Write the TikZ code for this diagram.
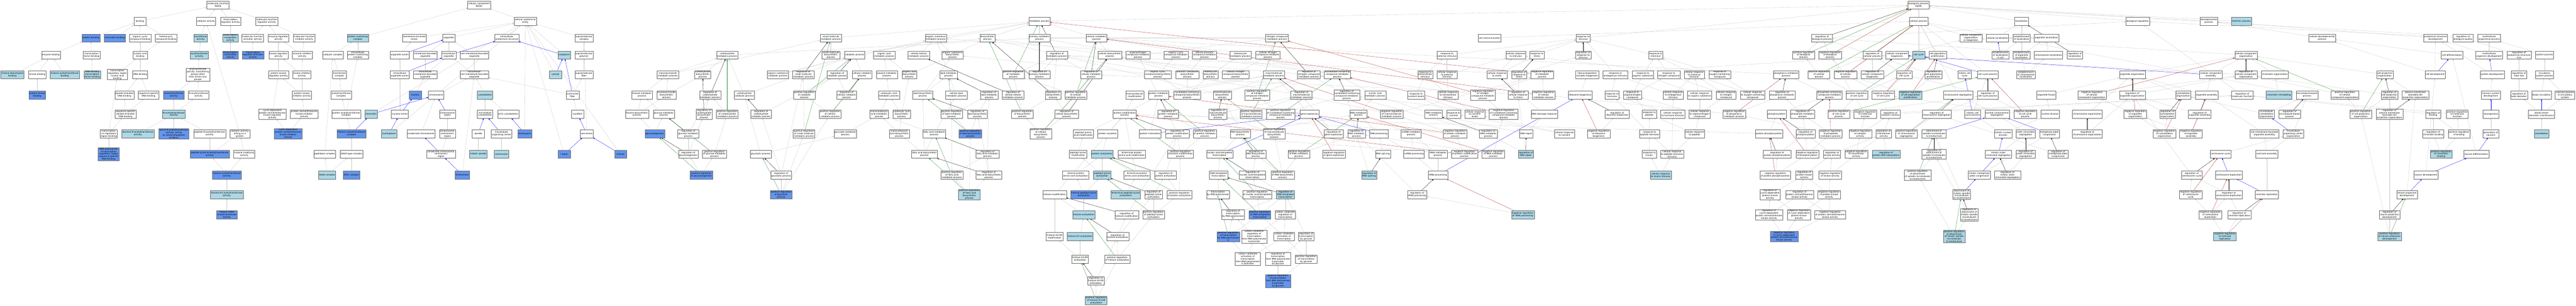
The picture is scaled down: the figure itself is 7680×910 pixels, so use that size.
\documentclass[tikz,border=0pt]{standalone}
\usepackage{fontspec}
\newfontfamily\gofont{DejaVu Sans}
\usetikzlibrary{arrows.meta}
\definecolor{hitblue}{HTML}{6495ED}
\definecolor{nearblue}{HTML}{ADD8E6}
\definecolor{edgegray}{HTML}{C8C8C8}
\definecolor{posgreen}{HTML}{228B22}
\definecolor{negred}{HTML}{B22222}
\pgfdeclarelayer{bg}
\pgfdeclarelayer{edges}
\pgfsetlayers{bg,edges,main}
\tikzstyle{goterm}=[draw=black!60,fill=white,line width=0.6pt,inner xsep=2pt,inner ysep=1pt,minimum width=36pt,minimum height=24pt,align=center,font=\gofont\fontsize{6.5}{7.5}\selectfont]
\tikzstyle{hitterm}=[goterm,fill=hitblue]
\tikzstyle{nearterm}=[goterm,fill=nearblue]
\def\rowy{{15,63,113,164,222,283,340,398,459,521,579,639,704,771,836,894}}
\newcommand{\goterm}[5][goterm]{\node[#1] (#2) at (#3,{\rowy[#4]}) {#5};}
\tikzset{
	isa/.style={draw=edgegray,line width=0.5pt,-{Triangle[length=4.5pt,width=3.6pt]}},
	partof/.style={isa,draw=blue},
	regs/.style={isa,draw=black},
	posregs/.style={isa,draw=posgreen},
	negregs/.style={isa,draw=negred},
}

\begin{document}
\begin{tikzpicture}[x=1pt,y=-1pt]
	\begin{pgfonlayer}{bg}
		\fill[white] (0,0) rectangle (7680,910);
	\end{pgfonlayer}
	\useasboundingbox (0,0) rectangle (7680,910);

	% molecular function
	\goterm{mf}{650}{0}{molecular\_function\\Kat2b}
	\goterm{bind}{417}{1}{binding}
	\goterm{catact}{614}{1}{catalytic activity}
	\goterm{trreg}{687}{1}{transcription\\regulator activity}
	\goterm{mfreg}{795}{1}{molecular function\\regulator activity}
	\goterm[hitterm]{protbind}{271}{2}{protein binding}
	\goterm[hitterm]{chrombind}{342}{2}{chromatin binding}
	\goterm{orgcyc}{418}{2}{organic cyclic\\compound binding}
	\goterm{hetcyc}{495}{2}{heterocyclic\\compound binding}
	\goterm[nearterm]{transf}{598}{2}{transferase\\activity}
	\goterm[nearterm]{coreg}{687}{2}{transcription\\coregulator\\activity}
	\goterm{mfact}{753}{2}{molecular function\\activator activity}
	\goterm{enzreg}{830}{2}{enzyme regulator\\activity}
	\goterm{mfinh}{907}{2}{molecular function\\inhibitor activity}
	\goterm{enzbind}{152}{3}{enzyme binding}
	\goterm{tfbind}{273}{3}{transcription\\factor binding}
	\goterm{nabind}{418}{3}{nucleic acid\\binding}
	\goterm[nearterm]{acyl}{594}{3}{acyltransferase\\activity}
	\goterm[hitterm]{coact}{687}{3}{transcription\\coactivator\\activity}
	\goterm[hitterm]{trregact}{754}{3}{transcription\\regulator activator\\activity}
	\goterm{kinreg}{830}{3}{kinase regulator\\activity}
	\goterm{enzinh}{901}{3}{enzyme inhibitor\\activity}
	\goterm[nearterm]{hdacbind}{37}{4}{histone deacetylase\\binding}
	\goterm{kinbind}{111}{4}{kinase binding}
	\goterm[nearterm]{hatbind}{193}{4}{histone acetyltransferase\\binding}
	\goterm[nearterm]{dbtfbind}{275}{4}{DNA-binding\\transcription\\factor binding}
	\goterm{trrbind}{350}{4}{transcription\\regulatory region\\nucleic acid\\binding}
	\goterm{dnabind}{418}{4}{DNA binding}
	\goterm{acyloth}{590}{4}{acyltransferase\\activity, transferring\\groups other\\than amino-acyl\\groups}
	\goterm{pkreg}{830}{4}{protein kinase\\regulator activity}
	\goterm{kininh}{900}{4}{kinase inhibitor\\activity}
	\goterm[hitterm]{pkbind}{111}{5}{protein kinase\\binding}
	\goterm{dsdna}{371}{5}{double-stranded\\DNA binding}
	\goterm{ssdna}{443}{5}{sequence-specific\\DNA binding}
	\goterm[hitterm]{acetyl}{518}{5}{acetyltransferase\\activity}
	\goterm{nacyl}{592}{5}{N-acyltransferase\\activity}
	\goterm{pkinh}{900}{5}{protein kinase\\inhibitor activity}
	\goterm{ssdsdna}{374}{6}{sequence-specific\\double-stranded\\DNA binding}
	\goterm[nearterm]{nacet}{518}{6}{N-acetyltransferase\\activity}
	\goterm{cdkreg}{812}{6}{cyclin-dependent\\protein serine/threonine\\kinase regulator\\activity}
	\goterm{stkinh}{907}{6}{protein serine/threonine\\kinase inhibitor\\activity}
	\goterm{tcrrbind}{324}{7}{transcription\\cis-regulatory\\region binding}
	\goterm[nearterm]{diamine}{411}{7}{diamine N-acetyltransferase\\activity}
	\goterm[hitterm]{lysnat}{518}{7}{lysine N-acetyltransferase\\activity, acting\\on acetyl phosphate\\as donor}
	\goterm{pepnat}{625}{7}{peptide N-acetyltransferase\\activity}
	\goterm{catprot}{715}{7}{catalytic activity,\\acting on a\\protein}
	\goterm[hitterm]{cdkinh}{859}{7}{cyclin-dependent\\protein serine/threonine\\kinase inhibitor\\activity}
	\goterm[hitterm]{polii}{324}{8}{RNA polymerase\\II transcription\\regulatory region\\sequence-specific\\DNA binding}
	\goterm[hitterm]{peplysnat}{625}{8}{peptide-lysine-N-acetyltransferase\\activity}
	\goterm{hismod}{728}{8}{histone modifying\\activity}
	\goterm[hitterm]{hatact}{676}{9}{histone acetyltransferase\\activity}
	\goterm[nearterm]{hthree}{676}{10}{histone H3 acetyltransferase\\activity}
	\goterm[hitterm]{hknine}{676}{11}{histone H3K9\\acetyltransferase\\activity}

	% cellular component
	\goterm{cc}{1428}{0}{cellular\_component\\Kat2b}
	\goterm{cae}{1566}{1}{cellular anatomical\\entity}
	\goterm[nearterm]{pcc}{1067}{2}{protein-containing\\complex}
	\goterm{mel}{1235}{2}{membrane-enclosed\\lumen}
	\goterm{organelle}{1338}{2}{organelle}
	\goterm{ias}{1511}{2}{intracellular\\anatomical structure}
	\goterm{smc}{1741}{2}{supramolecular\\complex}
	\goterm{catcx}{992}{3}{catalytic complex}
	\goterm{ipcc}{1067}{3}{intracellular\\protein-containing\\complex}
	\goterm{orglumen}{1192}{3}{organelle lumen}
	\goterm{mbo}{1268}{3}{membrane-bounded\\organelle}
	\goterm{io}{1338}{3}{intracellular\\organelle}
	\goterm{nmbo}{1414}{3}{non-membrane-bounded\\organelle}
	\goterm[nearterm]{cytoplasm}{1682}{3}{cytoplasm}
	\goterm{smpoly}{1741}{3}{supramolecular\\polymer}
	\goterm{trfcx}{1012}{4}{transferase\\complex}
	\goterm{iol}{1192}{4}{intracellular\\organelle lumen}
	\goterm{imbo}{1268}{4}{intracellular\\membrane-bounded\\organelle}
	\goterm{inmbo}{1414}{4}{intracellular\\non-membrane-bounded\\organelle}
	\goterm[nearterm]{cytosol}{1656}{4}{cytosol}
	\goterm{smfiber}{1741}{4}{supramolecular\\fiber}
	\goterm{actcx}{1017}{5}{acetyltransferase\\complex}
	\goterm[hitterm]{nucleus}{1238}{5}{nucleus}
	\goterm{chromosome}{1300}{5}{chromosome}
	\goterm[nearterm]{cytoskel}{1446}{5}{cytoskeleton}
	\goterm{contr}{1707}{5}{contractile\\fiber}
	\goterm{pactcx}{1032}{6}{protein acetyltransferase\\complex}
	\goterm[nearterm]{chromatin}{1106}{6}{chromatin}
	\goterm{nuclumen}{1192}{6}{nuclear lumen}
	\goterm{chrreg}{1334}{6}{chromosomal\\region}
	\goterm{mtcyto}{1446}{6}{microtubule\\cytoskeleton}
	\goterm{actin}{1515}{6}{actin cytoskeleton}
	\goterm{myofibril}{1722}{6}{myofibril}
	\goterm[hitterm]{hatcx}{1048}{7}{histone acetyltransferase\\complex}
	\goterm[nearterm]{nucleoplasm}{1160}{7}{nucleoplasm}
	\goterm{condchr}{1255}{7}{condensed chromosome}
	\goterm{centreg}{1334}{7}{chromosome,\\centromeric\\region}
	\goterm{spindle}{1426}{7}{spindle}
	\goterm{mtoc}{1495}{7}{microtubule\\organizing center}
	\goterm[hitterm]{actomyosin}{1564}{7}{actomyosin}
	\goterm{sarcomere}{1749}{7}{sarcomere}
	\goterm{pepcx}{968}{8}{peptidase complex}
	\goterm{sagatype}{1048}{8}{SAGA-type complex}
	\goterm{condcent}{1315}{8}{condensed chromosome,\\centromeric\\region}
	\goterm[nearterm]{mitspindle}{1426}{8}{mitotic spindle}
	\goterm[nearterm]{centrosome}{1495}{8}{centrosome}
	\goterm[hitterm]{iband}{1682}{8}{I band}
	\goterm[hitterm]{aband}{1850}{8}{A band}
	\goterm[nearterm]{saga}{975}{9}{SAGA complex}
	\goterm[hitterm]{atac}{1048}{9}{ATAC complex}
	\goterm[hitterm]{kinetochore}{1378}{9}{kinetochore}

	% biological process: carbohydrates
	\goterm{carbmet}{2168}{3}{carbohydrate\\metabolic process}
	\goterm{monomet}{1991}{4}{monosaccharide\\metabolic process}
	\goterm{carbbio}{2095}{4}{carbohydrate\\biosynthetic\\process}
	\goterm{hexmet}{1914}{5}{hexose metabolic\\process}
	\goterm{monobio}{1987}{5}{monosaccharide\\biosynthetic\\process}
	\goterm{regcarbmet}{2117}{5}{regulation of\\carbohydrate\\metabolic process}
	\goterm{carbcat}{2219}{5}{carbohydrate\\catabolic process}
	\goterm{hexbio}{1899}{6}{hexose biosynthetic\\process}
	\goterm{glcmet}{1979}{6}{glucose metabolic\\process}
	\goterm{regcarbbio}{2099}{6}{regulation of\\carbohydrate\\biosynthetic\\process}
	\goterm{posregcarbmet}{2168}{6}{positive regulation\\of carbohydrate\\metabolic process}
	\goterm[hitterm]{gluconeo}{1952}{7}{gluconeogenesis}
	\goterm{regglcmet}{2052}{7}{regulation of\\glucose metabolic\\process}
	\goterm{reggluconeo}{2052}{8}{regulation of\\gluconeogenesis}
	\goterm{posregglcmet}{2130}{8}{positive regulation\\of glucose metabolic\\process}
	\goterm[hitterm]{posreggluconeo}{2091}{9}{positive regulation\\of gluconeogenesis}

	% small molecules and lipids
	\goterm{smmet}{2477}{2}{small molecule\\metabolic process}
	\goterm{osmet}{2790}{2}{organic substance\\metabolic process}
	\goterm{biosyn}{2944}{2}{biosynthetic\\process}
	\goterm{smbio}{2477}{3}{small molecule\\biosynthetic\\process}
	\goterm{catab}{2548}{3}{catabolic process}
	\goterm{oamet}{2636}{3}{organic acid\\metabolic process}
	\goterm{ketmet}{2739}{3}{cellular ketone\\metabolic process}
	\goterm{osbio}{2840}{3}{organic substance\\biosynthetic\\process}
	\goterm{oscat}{2319}{4}{organic substance\\catabolic process}
	\goterm{regsmmet}{2395}{4}{regulation of\\small molecule\\metabolic process}
	\goterm{regcatab}{2496}{4}{regulation of\\catabolic process}
	\goterm{cellcat}{2570}{4}{cellular catabolic\\process}
	\goterm{oxomet}{2644}{4}{oxoacid metabolic\\process}
	\goterm{oabio}{2711}{4}{organic acid\\biosynthetic\\process}
	\goterm{lipmet}{2828}{4}{lipid metabolic\\process}
	\goterm{posregcatab}{2398}{5}{positive regulation\\of catabolic\\process}
	\goterm{regcellcat}{2524}{5}{regulation of\\cellular catabolic\\process}
	\goterm{carbxmet}{2650}{5}{carboxylic acid\\metabolic process}
	\goterm{lipbio}{2751}{5}{lipid biosynthetic\\process}
	\goterm{celllip}{2851}{5}{cellular lipid\\metabolic process}
	\goterm{reglipmet}{2949}{5}{regulation of\\lipid metabolic\\process}
	\goterm{regcarbcat}{2269}{6}{regulation of\\carbohydrate\\catabolic process}
	\goterm{posregcellcat}{2475}{6}{positive regulation\\of cellular\\catabolic process}
	\goterm{mcamet}{2621}{6}{monocarboxylic\\acid metabolic\\process}
	\goterm{carbxbio}{2688}{6}{carboxylic acid\\biosynthetic\\process}
	\goterm{posreglipmet}{2837}{6}{positive regulation\\of lipid metabolic\\process}
	\goterm{reglipbio}{2914}{6}{regulation of\\lipid biosynthetic\\process}
	\goterm{posregsmmet}{2397}{7}{positive regulation\\of small molecule\\metabolic process}
	\goterm{pyrmet}{2520}{7}{pyruvate metabolic\\process}
	\goterm{mcabio}{2681}{7}{monocarboxylic\\acid biosynthetic\\process}
	\goterm{famet}{2785}{7}{fatty acid metabolic\\process}
	\goterm[hitterm]{posreglipbio}{2893}{7}{positive regulation\\of lipid biosynthetic\\process}
	\goterm{glycol}{2268}{8}{glycolytic process}
	\goterm{fabio}{2756}{8}{fatty acid biosynthetic\\process}
	\goterm{regfamet}{2944}{8}{regulation of\\fatty acid metabolic\\process}
	\goterm{regglycol}{2329}{9}{regulation of\\glycolytic process}
	\goterm{posregfamet}{2838}{9}{positive regulation\\of fatty acid\\metabolic process}
	\goterm{regfabio}{2948}{9}{regulation of\\fatty acid biosynthetic\\process}
	\goterm[hitterm]{posregglycol}{2329}{10}{positive regulation\\of glycolytic\\process}
	\goterm[nearterm]{posregfabio}{2890}{10}{positive regulation\\of fatty acid\\biosynthetic\\process}

	% metabolism, proteins, transcription
	\goterm{metab}{3099}{1}{metabolic process}
	\goterm{primet}{3099}{2}{primary metabolic\\process}
	\goterm{cellmet}{3269}{2}{cellular metabolic\\process}
	\goterm{regmet}{3151}{3}{regulation of\\metabolic process}
	\goterm{cellbio}{3309}{3}{cellular biosynthetic\\process}
	\goterm{onmet}{3393}{3}{organonitrogen\\compound metabolic\\process}
	\goterm{ocmet}{3506}{3}{organic cyclic\\compound metabolic\\process}
	\goterm{aromet}{3591}{3}{cellular aromatic\\compound metabolic\\process}
	\goterm{hetmet}{3698}{3}{heterocycle\\metabolic process}
	\goterm{cnmet}{3780}{3}{cellular nitrogen\\compound metabolic\\process}
	\goterm{posregmet}{3021}{4}{positive regulation\\of metabolic\\process}
	\goterm{regprimet}{3099}{4}{regulation of\\primary metabolic\\process}
	\goterm{regcellmet}{3253}{4}{regulation of\\cellular metabolic\\process}
	\goterm{ocbio}{3452}{4}{organic cyclic\\compound biosynthetic\\process}
	\goterm{arobio}{3540}{4}{aromatic compound\\biosynthetic\\process}
	\goterm{hetbio}{3609}{4}{heterocycle\\biosynthetic\\process}
	\goterm{cnbio}{3684}{4}{cellular nitrogen\\compound biosynthetic\\process}
	\goterm{macmet}{3798}{4}{macromolecule\\metabolic process}
	\goterm{regketmet}{3020}{5}{regulation of\\cellular ketone\\metabolic process}
	\goterm{regbio}{3140}{5}{regulation of\\biosynthetic\\process}
	\goterm{posregcellmet}{3207}{5}{positive regulation\\of cellular\\metabolic process}
	\goterm{macmod}{3383}{5}{macromolecule\\modification}
	\goterm{protmet}{3454}{5}{protein metabolic\\process}
	\goterm{ncbio}{3539}{5}{nucleobase-containing\\compound biosynthetic\\process}
	\goterm{macbio}{3644}{5}{macromolecule\\biosynthetic\\process}
	\goterm{posregnmet}{3748}{5}{positive regulation\\of nitrogen\\compound metabolic\\process}
	\goterm{posregbio}{3048}{6}{positive regulation\\of biosynthetic\\process}
	\goterm{regcellbio}{3180}{6}{regulation of\\cellular biosynthetic\\process}
	\goterm{protmod}{3353}{6}{protein modification\\process}
	\goterm{regprotmet}{3483}{6}{regulation of\\protein metabolic\\process}
	\goterm{regmacbio}{3631}{6}{regulation of\\macromolecule\\biosynthetic\\process}
	\goterm{posregmacmet}{3730}{6}{positive regulation\\of macromolecule\\metabolic process}
	\goterm{posregncmet}{3818}{6}{positive regulation\\of nucleobase-containing\\compound metabolic\\process}
	\goterm{posregcellbio}{3103}{7}{positive regulation\\of cellular\\biosynthetic\\process}
	\goterm{pepaa}{3230}{7}{peptidyl-amino\\acid modification}
	\goterm{protacyl}{3302}{7}{protein acylation}
	\goterm{protmat}{3429}{7}{protein maturation}
	\goterm{regprotmod}{3510}{7}{regulation of\\protein modification\\process}
	\goterm{posregprotmet}{3592}{7}{positive regulation\\of protein metabolic\\process}
	\goterm{rnabio}{3698}{7}{RNA biosynthetic\\process}
	\goterm{posregmacbio}{3799}{7}{positive regulation\\of macromolecule\\biosynthetic\\process}
	\goterm{peplysmod}{3214}{8}{peptidyl-lysine\\modification}
	\goterm[nearterm]{protacet}{3286}{8}{protein acetylation}
	\goterm{ntermmod}{3374}{8}{N-terminal protein\\amino acid modification}
	\goterm{posregprotmod}{3519}{8}{positive regulation\\of protein modification\\process}
	\goterm{natx}{3636}{8}{nucleic acid-templated\\transcription}
	\goterm{regrnabio}{3744}{8}{regulation of\\RNA biosynthetic\\process}
	\goterm{posregrnamet}{3872}{8}{positive regulation\\of RNA metabolic\\process}
	\goterm{neggenexp}{3977}{8}{negative regulation\\of gene expression}
	\goterm{intaa}{3207}{9}{internal protein\\amino acid acetylation}
	\goterm[nearterm]{peplysacet}{3286}{9}{peptidyl-lysine\\acetylation}
	\goterm{ntermacet}{3390}{9}{N-terminal protein\\amino acid acetylation}
	\goterm{regprotacet}{3475}{9}{regulation of\\protein acetylation}
	\goterm{dnatx}{3633}{9}{DNA-templated\\transcription}
	\goterm{regnatx}{3734}{9}{regulation of\\nucleic acid-templated\\transcription}
	\goterm{posregrnabio}{3824}{9}{positive regulation\\of RNA biosynthetic\\process}
	\goterm{hismodp}{3144}{10}{histone modification}
	\goterm[hitterm]{intpeplys}{3231}{10}{internal peptidyl-lysine\\acetylation}
	\goterm[nearterm]{ntermpeplys}{3356}{10}{N-terminal peptidyl-lysine\\acetylation}
	\goterm{regpeplys}{3439}{10}{regulation of\\peptidyl-lysine\\acetylation}
	\goterm{posregprotacet}{3516}{10}{positive regulation\\of protein acetylation}
	\goterm{txpolii}{3631}{10}{transcription\\by RNA polymerase\\II}
	\goterm{posregnatx}{3748}{10}{positive regulation\\of nucleic acid-templated\\transcription}
	\goterm[nearterm]{regdnatx}{3832}{10}{regulation of\\DNA-templated\\transcription}
	\goterm[nearterm]{hisacet}{3231}{11}{histone acetylation}
	\goterm{reghismod}{3359}{11}{regulation of\\histone modification}
	\goterm{posregpeplys}{3439}{11}{positive regulation\\of peptidyl-lysine\\acetylation}
	\goterm{regtxpolii}{3676}{11}{regulation of\\transcription\\by RNA polymerase\\II}
	\goterm[hitterm]{posregdnatx}{3756}{11}{positive regulation\\of DNA-templated\\transcription}
	\goterm{ccregtx}{3832}{11}{carbon catabolite\\regulation of\\transcription}
	\goterm{h3k9mod}{3144}{12}{histone H3-K9\\modification}
	\goterm[nearterm]{h3acet}{3220}{12}{histone H3 acetylation}
	\goterm{reghisacet}{3332}{12}{regulation of\\histone acetylation}
	\goterm[hitterm]{posregtxpolii}{3662}{12}{positive regulation\\of transcription\\by RNA polymerase\\II}
	\goterm{ccregpolii}{3739}{12}{carbon catabolite\\regulation of\\transcription\\from RNA polymerase\\II promoter}
	\goterm{ccact}{3828}{12}{carbon catabolite\\activation of\\transcription}
	\goterm{regtxglc}{3894}{12}{regulation of\\transcription\\by glucose}
	\goterm{h3k9acet}{3220}{13}{histone H3-K9\\acetylation}
	\goterm{posreghisacet}{3331}{13}{positive regulation\\of histone acetylation}
	\goterm{ccactpolii}{3720}{13}{carbon catabolite\\activation of\\transcription\\from RNA polymerase\\II promoter}
	\goterm{regtxpoliiglc}{3810}{13}{regulation of\\transcription\\from RNA polymerase\\II promoter\\by glucose}
	\goterm{posregtxglc}{3894}{13}{positive regulation\\of transcription\\by glucose}
	\goterm{regh3k9}{3267}{14}{regulation of\\histone H3-K9\\acetylation}
	\goterm[hitterm]{posregtxpoliiglc}{3810}{14}{positive regulation\\of transcription\\from RNA polymerase\\II promoter\\by glucose}
	\goterm[nearterm]{posregh3k9}{3268}{15}{positive regulation\\of histone H3-K9\\acetylation}

	% nucleic acids and responses
	\goterm{nmet}{3807}{2}{nitrogen compound\\metabolic process}
	\goterm{cellcomm}{4441}{2}{cell communication}
	\goterm{respext}{4314}{3}{response to\\external stimulus}
	\goterm{cellresp}{4519}{3}{cellular response\\to stimulus}
	\goterm{regnmet}{3902}{4}{regulation of\\nitrogen compound\\metabolic process}
	\goterm{ncmet}{3987}{4}{nucleobase-containing\\compound metabolic\\process}
	\goterm{respextra}{4249}{4}{response to\\extracellular\\stimulus}
	\goterm{cellrespext}{4314}{4}{cellular response\\to external\\stimulus}
	\goterm{cellstress}{4463}{4}{cellular response\\to stress}
	\goterm{regrespstress}{4529}{4}{regulation of\\response to\\stress}
	\goterm{regmacmet}{3880}{5}{regulation of\\macromolecule\\metabolic process}
	\goterm{regncmet}{4015}{5}{regulation of\\nucleobase-containing\\compound metabolic\\process}
	\goterm{namet}{4100}{5}{nucleic acid\\metabolic process}
	\goterm{respnutlev}{4222}{5}{response to\\nutrient levels}
	\goterm{cellrespextra}{4317}{5}{cellular response\\to extracellular\\stimulus}
	\goterm{negregnmet}{4421}{5}{negative regulation\\of nitrogen\\compound metabolic\\process}
	\goterm{regcellstress}{4526}{5}{regulation of\\cellular response\\to stress}
	\goterm{genexp}{3904}{6}{gene expression}
	\goterm{rnamet}{4050}{6}{RNA metabolic\\process}
	\goterm{negregmacmet}{4149}{6}{negative regulation\\of macromolecule\\metabolic process}
	\goterm{dnamet}{4274}{6}{DNA metabolic\\process}
	\goterm{respnut}{4334}{6}{response to\\nutrient}
	\goterm{cellrespnutlev}{4397}{6}{cellular response\\to nutrient\\levels}
	\goterm{negregncmet}{4483}{6}{negative regulation\\of nucleobase-containing\\compound metabolic\\process}
	\goterm{reggenexp}{3976}{7}{regulation of\\gene expression}
	\goterm{regrnamet}{4044}{7}{regulation of\\RNA metabolic\\process}
	\goterm{rnaproc}{4111}{7}{RNA processing}
	\goterm{ncrnamet}{4207}{7}{ncRNA metabolic\\process}
	\goterm{negregprotmet}{4338}{7}{negative regulation\\of protein metabolic\\process}
	\goterm{regdnamet}{4437}{7}{regulation of\\DNA metabolic\\process}
	\goterm{dnarepair}{4550}{7}{DNA repair}
	\goterm{rnasplice}{4123}{8}{RNA splicing}
	\goterm{ncrnaproc}{4215}{8}{ncRNA processing}
	\goterm{rrnamet}{4287}{8}{rRNA metabolic\\process}
	\goterm{negregprotmod}{4366}{8}{negative regulation\\of protein modification\\process}
	\goterm{negregrnamet}{4452}{8}{negative regulation\\of RNA metabolic\\process}
	\goterm[nearterm]{regdnarepair}{4549}{8}{regulation of\\DNA repair}
	\goterm[nearterm]{regrnasplice}{4082}{9}{regulation of\\RNA splicing}
	\goterm{rrnaproc}{4287}{9}{rRNA processing}
	\goterm{regrrnaproc}{4225}{10}{regulation of\\rRNA processing}
	\goterm[nearterm]{negregrrnaproc}{4540}{11}{negative regulation\\of rRNA processing}
	\goterm{respstim}{4720}{2}{response to\\stimulus}
	\goterm{respstress}{4582}{3}{response to\\stress}
	\goterm{regrespstim}{4720}{3}{regulation of\\response to\\stimulus}
	\goterm{respchem}{4936}{3}{response to\\chemical}
	\goterm{negregmet}{4598}{4}{negative regulation\\of metabolic\\process}
	\goterm{rnpbio}{4732}{4}{ribonucleoprotein\\complex biogenesis}
	\goterm{respendo}{4816}{4}{response to\\endogenous stimulus}
	\goterm{resporg}{4898}{4}{response to\\organic substance}
	\goterm{respnitro}{4975}{4}{response to\\nitrogen compound}
	\goterm{cellrespchem}{5051}{4}{cellular response\\to chemical\\stimulus}
	\goterm{respoxy}{5127}{4}{response to\\oxygen-containing\\compound}
	\goterm{phosmet}{5325}{4}{phosphorus metabolic\\process}
	\goterm{negregcellmet}{4602}{5}{negative regulation\\of cellular\\metabolic process}
	\goterm{ribobio}{4711}{5}{ribosome biogenesis}
	\goterm{resphorm}{4806}{5}{response to\\hormone}
	\goterm{resporgn}{4867}{5}{response to\\organonitrogen\\compound}
	\goterm{cellrespendo}{4988}{5}{cellular response\\to endogenous\\stimulus}
	\goterm{cellresporg}{5067}{5}{cellular response\\to organic substance}
	\goterm{cellrespnitro}{5146}{5}{cellular response\\to nitrogen\\compound}
	\goterm{cellrespoxy}{5225}{5}{cellular response\\to oxygen-containing\\compound}
	\goterm{regphosmet}{5313}{5}{regulation of\\phosphorus metabolic\\process}
	\goterm{dnadamage}{4604}{6}{DNA damage response}
	\goterm{regribobio}{4821}{6}{regulation of\\ribosome biogenesis}
	\goterm{resppep}{4917}{6}{response to\\peptide}
	\goterm{cellresphorm}{4987}{6}{cellular response\\to hormone stimulus}
	\goterm{cellresporgn}{5067}{6}{cellular response\\to organonitrogen\\compound}
	\goterm{negregphosmet}{5170}{6}{negative regulation\\of phosphorus\\metabolic process}
	\goterm{phosphorylation}{5297}{6}{phosphorylation}
	\goterm{cellrespnut}{4664}{7}{cellular response\\to nutrient}
	\goterm{negregribobio}{4766}{7}{negative regulation\\of ribosome\\biogenesis}
	\goterm{resppephorm}{4918}{7}{response to\\peptide hormone}
	\goterm{cellresppep}{5052}{7}{cellular response\\to peptide}
	\goterm{protphos}{5274}{7}{protein phosphorylation}
	\goterm{respinsulin}{4917}{8}{response to\\insulin}
	\goterm{cellresppephorm}{4985}{8}{cellular response\\to peptide hormone\\stimulus}
	\goterm{regprotphos}{5298}{8}{regulation of\\protein phosphorylation}
	\goterm[nearterm]{cellrespins}{4951}{9}{cellular response\\to insulin stimulus}
	\goterm{negregprotphos}{5293}{9}{negative regulation\\of protein phosphorylation}
	\goterm{regcdk}{5277}{10}{regulation of\\cyclin-dependent\\protein kinase\\activity}
	\goterm{regstk}{5365}{10}{regulation of\\protein serine/threonine\\kinase activity}
	\goterm{regcdkst}{5274}{11}{regulation of\\cyclin-dependent\\protein serine/threonine\\kinase activity}
	\goterm{negregcdk}{5363}{11}{negative regulation\\of cyclin-dependent\\protein kinase\\activity}
	\goterm[hitterm]{negregcdkst}{5319}{12}{negative regulation\\of cyclin-dependent\\protein serine/threonine\\kinase activity}

	% cellular process and cell cycle
	\goterm{bp}{5720}{0}{biological\_process\\Kat2b}
	\goterm{cellproc}{5720}{1}{cellular process}
	\goterm{localization}{6027}{1}{localization}
	\goterm{regbp}{5432}{2}{regulation of\\biological process}
	\goterm{ccob}{5876}{2}{cellular component\\organization\\or biogenesis}
	\goterm{cellloc}{5955}{2}{cellular localization}
	\goterm{estloc}{6027}{2}{establishment\\of localization}
	\goterm{orgloc}{6101}{2}{organelle localization}
	\goterm{posregbp}{5377}{3}{positive regulation\\of biological\\process}
	\goterm{negregbp}{5456}{3}{negative regulation\\of biological\\process}
	\goterm{regcellproc}{5582}{3}{regulation of\\cellular process}
	\goterm{ccbiog}{5656}{3}{cellular component\\biogenesis}
	\goterm[nearterm]{cellcycle}{5720}{3}{cell cycle}
	\goterm{cellpop}{5777}{3}{cell population\\proliferation}
	\goterm{estlocincell}{5964}{3}{establishment\\of localization\\in cell}
	\goterm{estorgloc}{6027}{3}{establishment\\of organelle\\localization}
	\goterm{chrloc}{6107}{3}{chromosome localization}
	\goterm{posregcellproc}{5423}{4}{positive regulation\\of cellular\\process}
	\goterm{negregcellproc}{5502}{4}{negative regulation\\of cellular\\process}
	\goterm{regccbiog}{5582}{4}{regulation of\\cellular component\\biogenesis}
	\goterm{regcellcycle}{5677}{4}{regulation of\\cell cycle}
	\goterm{regcellpop}{5764}{4}{regulation of\\cell population\\proliferation}
	\goterm{mitcc}{5857}{4}{mitotic cell\\cycle}
	\goterm{ccproc}{5926}{4}{cell cycle process}
	\goterm{estchrloc}{6040}{4}{establishment\\of chromosome\\localization}
	\goterm{phoscmet}{5454}{5}{phosphate-containing\\compound metabolic\\process}
	\goterm{posregcc}{5536}{5}{positive regulation\\of cell cycle}
	\goterm{negregcc}{5615}{5}{negative regulation\\of cell cycle}
	\goterm[nearterm]{negregcellpop}{5696}{5}{negative regulation\\of cell population\\proliferation}
	\goterm{chrseg}{5838}{5}{chromosome segregation}
	\goterm{regccproc}{5926}{5}{regulation of\\cell cycle process}
	\goterm{orgfission}{6101}{5}{organelle fission}
	\goterm{regphosphmet}{5374}{6}{regulation of\\phosphate metabolic\\process}
	\goterm{posregccproc}{5482}{6}{positive regulation\\of cell cycle\\process}
	\goterm{negregmf}{5561}{6}{negative regulation\\of molecular\\function}
	\goterm{regcatact}{5636}{6}{regulation of\\catalytic activity}
	\goterm{regchrseg}{5774}{6}{regulation of\\chromosome segregation}
	\goterm{mitccproc}{5881}{6}{mitotic cell\\cycle process}
	\goterm{nucchrseg}{5954}{6}{nuclear chromosome\\segregation}
	\goterm{negregccproc}{6038}{6}{negative regulation\\of cell cycle\\process}
	\goterm{nucdiv}{6112}{6}{nuclear division}
	\goterm{regphos}{5383}{7}{regulation of\\phosphorylation}
	\goterm{negregphosphmet}{5458}{7}{negative regulation\\of phosphate\\metabolic process}
	\goterm{negregcatact}{5546}{7}{negative regulation\\of catalytic\\activity}
	\goterm{regtransf}{5616}{7}{regulation of\\transferase\\activity}
	\goterm{posregchrseg}{5684}{7}{positive regulation\\of chromosome\\segregation}
	\goterm{attach}{5766}{7}{attachment of\\spindle microtubules\\to kinetochore}
	\goterm{mitnucdiv}{5972}{7}{mitotic nuclear\\division}
	\goterm{sischrseg}{6039}{7}{sister chromatid\\segregation}
	\goterm{metaphase}{6110}{7}{metaphase plate\\congression}
	\goterm{negregphos}{5388}{8}{negative regulation\\of phosphorylation}
	\goterm{regkinact}{5462}{8}{regulation of\\kinase activity}
	\goterm{negregtransf}{5534}{8}{negative regulation\\of transferase\\activity}
	\goterm[nearterm]{regadp}{5623}{8}{regulation of\\protein ADP-ribosylation}
	\goterm{regattach}{5766}{8}{regulation of\\attachment of\\spindle microtubules\\to kinetochore}
	\goterm{mitsischr}{5958}{8}{mitotic sister\\chromatid segregation}
	\goterm{regsischr}{6039}{8}{regulation of\\sister chromatid\\segregation}
	\goterm{regmetaphase}{6136}{8}{regulation of\\metaphase plate\\congression}
	\goterm{regpk}{5379}{9}{regulation of\\protein kinase\\activity}
	\goterm{negregkin}{5456}{9}{negative regulation\\of kinase activity}
	\goterm{posregattach}{5717}{9}{positive regulation\\of attachment\\of spindle microtubules\\to kinetochore}
	\goterm{mitmeta}{5901}{9}{mitotic metaphase\\plate congression}
	\goterm{regmitsis}{5985}{9}{regulation of\\mitotic sister\\chromatid segregation}
	\goterm{negregpk}{5453}{10}{negative regulation\\of protein kinase\\activity}
	\goterm{attachmit}{5848}{10}{attachment of\\mitotic spindle\\microtubules\\to kinetochore}
	\goterm{negregstk}{5456}{11}{negative regulation\\of protein serine/threonine\\kinase activity}
	\goterm{regattachmit}{5871}{11}{regulation of\\attachment of\\mitotic spindle\\microtubules\\to kinetochore}
	\goterm[nearterm]{posregattachmit}{5826}{12}{positive regulation\\of attachment\\of mitotic spindle\\microtubules\\to kinetochore}

	% organization
	\goterm{bioreg}{6373}{1}{biological regulation}
	\goterm{devproc}{6585}{1}{developmental\\process}
	\goterm[nearterm]{rhythmic}{6682}{1}{rhythmic process}
	\goterm{celldevproc}{6923}{2}{cellular developmental\\process}
	\goterm{regloc}{6186}{3}{regulation of\\localization}
	\goterm{cco}{6696}{3}{cellular component\\organization}
	\goterm{orgorg}{6357}{4}{organelle organization}
	\goterm{ccassembly}{6591}{4}{cellular component\\assembly}
	\goterm{regcco}{6696}{4}{regulation of\\cellular component\\organization}
	\goterm{chromorg}{6782}{4}{chromatin organization}
	\goterm{negregcco}{6237}{5}{negative regulation\\of cellular\\component organization}
	\goterm{regorgorg}{6357}{5}{regulation of\\organelle organization}
	\goterm{cytoorg}{6509}{5}{cytoskeleton\\organization}
	\goterm{orgassembly}{6579}{5}{organelle assembly}
	\goterm{regmf}{6685}{5}{regulation of\\molecular function}
	\goterm[nearterm]{chromremod}{6794}{5}{chromatin remodeling}
	\goterm{mtbased}{6878}{5}{microtubule-based\\process}
	\goterm{chrorg}{6223}{6}{chromosome organization}
	\goterm{negregorgorg}{6366}{6}{negative regulation\\of organelle\\organization}
	\goterm{regcytoorg}{6462}{6}{regulation of\\cytoskeleton\\organization}
	\goterm{regorgassem}{6558}{6}{regulation of\\organelle assembly}
	\goterm{mtcytoorg}{6757}{6}{microtubule\\cytoskeleton\\organization}
	\goterm{regmtbased}{6826}{6}{regulation of\\microtubule-based\\process}
	\goterm{regchrorg}{6223}{7}{regulation of\\chromosome organization}
	\goterm{negregcytoorg}{6453}{7}{negative regulation\\of cytoskeleton\\organization}
	\goterm{negregorgassem}{6532}{7}{negative regulation\\of organelle\\assembly}
	\goterm{nmboassem}{6751}{7}{non-membrane-bounded\\organelle assembly}
	\goterm{mtocorg}{6837}{7}{microtubule\\organizing center\\organization}
	\goterm{centcycle}{6620}{8}{centrosome cycle}
	\goterm{centassem}{6758}{8}{centriole assembly}
	\goterm{regcentcycle}{6534}{9}{regulation of\\centrosome cycle}
	\goterm{centdup}{6645}{9}{centrosome duplication}
	\goterm{negregcentcycle}{6531}{10}{negative regulation\\of centrosome\\cycle}
	\goterm{regcentdup}{6645}{10}{regulation of\\centrosome duplication}
	\goterm{centrep}{6758}{10}{centriole replication}
	\goterm{negregcentdup}{6590}{11}{negative regulation\\of centrosome\\duplication}
	\goterm{regcentrep}{6676}{11}{regulation of\\centriole replication}
	\goterm[nearterm]{negregcentrep}{6633}{12}{negative regulation\\of centriole\\replication}

	% development
	\goterm{asdev}{7261}{2}{anatomical structure\\development}
	\goterm{regbq}{7343}{2}{regulation of\\biological quality}
	\goterm{mop}{7421}{2}{multicellular\\organismal process}
	\goterm{celldiff}{7310}{3}{cell differentiation}
	\goterm{mod}{7421}{3}{multicellular\\organism development}
	\goterm{regass}{7510}{3}{regulation of\\anatomical structure\\size}
	\goterm{sysproc}{7586}{3}{system process}
	\goterm{cpo}{7110}{4}{cell projection\\organization}
	\goterm{celldev}{7260}{4}{cell development}
	\goterm{sysdev}{7430}{4}{system development}
	\goterm{regtube}{7510}{4}{regulation of\\tube size}
	\goterm{circsys}{7586}{4}{circulatory\\system process}
	\goterm{posregcco}{6991}{5}{positive regulation\\of cellular\\component organization}
	\goterm{regcpo}{7124}{5}{regulation of\\cell projection\\organization}
	\goterm{pmbcpo}{7201}{5}{plasma membrane\\bounded cell\\projection organization}
	\goterm{nsdev}{7426}{5}{nervous system\\development}
	\goterm{regtubediam}{7510}{5}{regulation of\\tube diameter}
	\goterm{bloodcirc}{7577}{5}{blood circulation}
	\goterm{vascproc}{7647}{5}{vascular process\\in circulatory\\system}
	\goterm{posregcpo}{7038}{6}{positive regulation\\of cell projection\\organization}
	\goterm{regpmbcpo}{7124}{6}{regulation of\\plasma membrane\\bounded cell\\projection organization}
	\goterm{regbinding}{7254}{6}{regulation of\\binding}
	\goterm{posregmf}{7326}{6}{positive regulation\\of molecular\\function}
	\goterm{neurogenesis}{7426}{6}{neurogenesis}
	\goterm{bvdm}{7577}{6}{blood vessel\\diameter maintenance}
	\goterm{regchrombind}{7254}{7}{regulation of\\chromatin binding}
	\goterm{posregbinding}{7331}{7}{positive regulation\\of binding}
	\goterm{genneurons}{7426}{7}{generation of\\neurons}
	\goterm[nearterm]{vasodilation}{7577}{7}{vasodilation}
	\goterm[nearterm]{posregchrombind}{7278}{8}{positive regulation\\of chromatin\\binding}
	\goterm{neurondiff}{7383}{8}{neuron differentiation}
	\goterm{neurondev}{7232}{9}{neuron development}
	\goterm{npd}{7176}{10}{neuron projection\\development}
	\goterm{regnpd}{7124}{11}{regulation of\\neuron projection\\development}
	\goterm[nearterm]{posregnpd}{7124}{12}{positive regulation\\of neuron projection\\development}

	\begin{pgfonlayer}{edges}
	% is_a
	\foreach \a/\b in {bind/mf,catact/mf,trreg/mf,mfreg/mf,protbind/bind,chrombind/bind,orgcyc/bind,hetcyc/bind,
		transf/catact,catprot/catact,coreg/trreg,coact/coreg,mfact/mfreg,enzreg/mfreg,mfinh/mfreg,
		enzbind/protbind,tfbind/protbind,nabind/orgcyc,nabind/hetcyc,acyl/transf,trregact/mfact,
		kinreg/enzreg,enzinh/enzreg,enzinh/mfinh,hdacbind/enzbind,kinbind/enzbind,hatbind/enzbind,
		dbtfbind/tfbind,trrbind/nabind,dnabind/nabind,acyloth/acyl,pkreg/kinreg,kininh/kinreg,kininh/enzinh,
		pkbind/kinbind,dsdna/dnabind,ssdna/dnabind,acetyl/acyloth,nacyl/acyloth,pkinh/pkreg,pkinh/kininh,
		ssdsdna/dsdna,ssdsdna/ssdna,nacet/acetyl,nacet/nacyl,cdkreg/pkreg,stkinh/pkinh,
		tcrrbind/trrbind,tcrrbind/ssdsdna,diamine/nacet,lysnat/nacet,pepnat/nacet,
		cdkinh/cdkreg,cdkinh/stkinh,polii/tcrrbind,peplysnat/pepnat,peplysnat/catprot,hismod/catprot,
		hatact/peplysnat,hatact/hismod,hthree/hatact,hknine/hthree}
		\draw[isa] (\a) -- (\b);
	\foreach \a/\b in {cae/cc,pcc/cc,mel/cae,organelle/cae,ias/cae,smc/cae,catcx/pcc,ipcc/pcc,orglumen/mel,
		mbo/organelle,io/organelle,nmbo/organelle,trfcx/catcx,iol/orglumen,imbo/mbo,imbo/io,inmbo/nmbo,inmbo/io,
		actcx/trfcx,nucleus/imbo,chromosome/inmbo,cytoskel/inmbo,pactcx/actcx,pactcx/ipcc,chromatin/cae,
		nuclumen/iol,mtcyto/cytoskel,actin/cytoskel,hatcx/pactcx,nucleoplasm/cae,condchr/chromosome,
		centreg/chrreg,pepcx/catcx,sagatype/hatcx,condcent/centreg,mitspindle/spindle,centrosome/mtoc,
		saga/pepcx,saga/sagatype,atac/sagatype,kinetochore/inmbo,cytoplasm/cae,cytosol/cae,smpoly/smc,
		smfiber/smpoly,contr/smfiber,contr/inmbo,myofibril/contr,actomyosin/cae,iband/cae,aband/cae,sarcomere/smc}
		\draw[isa] (\a) -- (\b);
	\foreach \a/\b in {monomet/carbmet,carbbio/carbmet,hexmet/monomet,monobio/monomet,monobio/carbbio,
		hexbio/hexmet,hexbio/monobio,glcmet/hexmet,regcarbbio/regcarbmet,posregcarbmet/regcarbmet,
		gluconeo/hexbio,gluconeo/glcmet,regglcmet/regcarbmet,reggluconeo/regglcmet,reggluconeo/regcarbbio,
		posregglcmet/regglcmet,posregglcmet/posregcarbmet,posreggluconeo/reggluconeo,posreggluconeo/posregglcmet,
		carbcat/carbmet,carbcat/catab,carbmet/primet,monomet/smmet,
		smbio/smmet,smbio/biosyn,catab/metab,oamet/osmet,ketmet/osmet,osbio/osmet,osbio/biosyn,oscat/catab,
		oscat/osmet,cellcat/catab,oxomet/oamet,oabio/oamet,oabio/osbio,lipmet/osmet,posregcatab/regcatab,
		regcellcat/regcatab,carbxmet/oxomet,lipbio/lipmet,lipbio/osbio,celllip/lipmet,regcarbcat/regcatab,
		posregcellcat/regcellcat,posregcellcat/posregcatab,mcamet/carbxmet,carbxbio/carbxmet,carbxbio/oabio,
		posreglipmet/reglipmet,reglipbio/reglipmet,posregsmmet/regsmmet,pyrmet/mcamet,mcabio/mcamet,
		mcabio/carbxbio,famet/mcamet,famet/celllip,posreglipbio/reglipbio,posreglipbio/posreglipmet,
		glycol/carbcat,glycol/pyrmet,fabio/famet,fabio/mcabio,fabio/lipbio,regfamet/reglipmet,
		regglycol/regcarbcat,regglycol/regsmmet,posregfamet/regfamet,posregfamet/posreglipmet,
		regfabio/regfamet,regfabio/reglipbio,posregglycol/regglycol,posregglycol/posregsmmet,
		posregglycol/posregcellcat,posregfabio/posregfamet,posregfabio/regfabio,posregfabio/posreglipbio,
		smmet/metab,osmet/metab,biosyn/metab}
		\draw[isa] (\a) -- (\b);
	\foreach \a/\b in {primet/metab,cellmet/metab,posregmet/regmet,regprimet/regmet,regcellmet/regmet,
		cellbio/cellmet,cellbio/biosyn,posregcellmet/regcellmet,posregcellmet/posregmet,onmet/primet,onmet/nmet,
		ocmet/osmet,aromet/cellmet,hetmet/cellmet,cnmet/nmet,cnmet/cellmet,ocbio/ocmet,ocbio/osbio,
		arobio/aromet,arobio/cellbio,hetbio/hetmet,hetbio/cellbio,cnbio/cnmet,cnbio/cellbio,regbio/regmet,
		regcellbio/regbio,regcellbio/regcellmet,posregbio/regbio,posregbio/posregmet,posregcellbio/regcellbio,
		posregcellbio/posregbio,posregcellbio/posregcellmet,macmod/macmet,protmet/onmet,protmet/macmet,
		ncbio/ncmet,ncbio/hetbio,ncbio/arobio,ncbio/ocbio,macbio/macmet,macbio/biosyn,regmacbio/regmacmet,
		protmod/protmet,protmod/macmod,posregprotmet/regprotmet,regprotmod/regprotmet,posregprotmod/regprotmod,
		posregprotmod/posregprotmet,pepaa/protmod,protacyl/protmod,protmat/protmet,rnabio/macbio,rnabio/rnamet,
		natx/rnabio,regrnabio/regmacbio,peplysmod/pepaa,protacet/protacyl,ntermmod/protmod,
		regprotacet/regprotmod,intaa/protacet,peplysacet/peplysmod,peplysacet/protacet,ntermacet/ntermmod,
		ntermacet/protacet,dnatx/natx,regnatx/regrnabio,posregprotacet/regprotacet,posregprotacet/posregprotmod,
		regpeplys/regprotacet,intpeplys/intaa,intpeplys/peplysacet,ntermpeplys/peplysacet,ntermpeplys/ntermacet,
		hismodp/protmod,txpolii/dnatx,posregnatx/regnatx,regdnatx/regnatx,hisacet/intpeplys,hisacet/hismodp,
		posregpeplys/regpeplys,posregpeplys/posregprotacet,regtxpolii/regdnatx,posregdnatx/posregnatx,
		posregdnatx/regdnatx,ccregtx/regdnatx,h3k9mod/hismodp,h3acet/hisacet,reghisacet/reghismod,
		reghisacet/regpeplys,reghismod/regprotmod,posregtxpolii/regtxpolii,posregtxpolii/posregdnatx,
		ccregpolii/regtxpolii,ccregpolii/ccregtx,ccact/ccregtx,ccact/posregdnatx,regtxglc/regdnatx,
		h3k9acet/h3k9mod,h3k9acet/h3acet,posreghisacet/reghisacet,posreghisacet/posregpeplys,
		ccactpolii/ccregpolii,ccactpolii/posregtxpolii,ccactpolii/ccact,regtxpoliiglc/ccregpolii,
		regtxpoliiglc/regtxglc,posregtxglc/regtxglc,posregtxglc/ccact,regh3k9/reghisacet,
		posregtxpoliiglc/regtxpoliiglc,posregtxpoliiglc/posregtxglc,posregh3k9/regh3k9,posregh3k9/posreghisacet,
		posregmacbio/regmacbio,posregrnabio/regrnabio,posregrnabio/posregmacbio}
		\draw[isa] (\a) -- (\b);
	\foreach \a/\b in {ncmet/cnmet,ncmet/hetmet,ncmet/aromet,ncmet/ocmet,regncmet/regnmet,regmacmet/regmet,
		namet/ncmet,genexp/macmet,rnamet/namet,reggenexp/regmacmet,regrnamet/regncmet,posregrnamet/regrnamet,
		neggenexp/reggenexp,posregrnabio/posregrnamet,ncrnamet/rnamet,rnasplice/rnaproc,regrnasplice/regrnamet,
		ncrnaproc/ncrnamet,ncrnaproc/rnaproc,rrnamet/ncrnamet,rrnaproc/rrnamet,rrnaproc/ncrnaproc,rnaproc/rnamet,
		dnamet/namet,regdnamet/regncmet,dnarepair/dnamet,dnarepair/dnadamage,regdnarepair/regdnamet,
		regdnarepair/regcellstress,negregprotmet/regprotmet,negregprotmet/negregmacmet,
		negregprotmod/negregprotmet,negregprotmod/regprotmod,negregrnamet/regrnamet,negregrnamet/negregncmet,
		negregnmet/regnmet,negregnmet/negregmet,negregncmet/regncmet,negregncmet/negregnmet,
		negregmacmet/regmacmet,negregmacmet/negregmet,respext/respstim,cellresp/respstim,respextra/respext,
		cellrespext/respext,cellrespext/cellresp,cellstress/respstress,cellstress/cellresp,
		regrespstress/regrespstim,respnutlev/respextra,cellrespextra/respextra,cellrespextra/cellrespext,
		regcellstress/regrespstress,respnut/respnutlev,cellrespnutlev/respnutlev,cellrespnutlev/cellrespextra,
		cellrespnut/respnut,cellrespnut/cellrespnutlev,cellcomm/cellproc,regrrnaproc/regrnamet,
		negregrrnaproc/regrrnaproc,posregncmet/regncmet,posregnmet/regnmet,posregmacmet/regmacmet,
		posregncmet/posregnmet,regnmet/regmet,nmet/primet}
		\draw[isa] (\a) -- (\b);
	\foreach \a/\b in {respstim/bp,respstress/respstim,respchem/respstim,negregmet/regmet,rnpbio/ccbiog,
		respendo/respstim,resporg/respchem,respnitro/respchem,cellrespchem/respchem,cellrespchem/cellresp,
		respoxy/respchem,phosmet/cellmet,negregcellmet/negregmet,negregcellmet/regcellmet,ribobio/rnpbio,
		resphorm/respendo,resporgn/resporg,resporgn/respnitro,cellrespendo/respendo,cellrespendo/cellrespchem,
		cellresporg/resporg,cellresporg/cellrespchem,cellrespnitro/respnitro,cellrespnitro/cellrespchem,
		cellrespoxy/respoxy,cellrespoxy/cellrespchem,dnadamage/cellstress,resppep/resporgn,
		cellresphorm/cellrespendo,cellresphorm/resphorm,cellresporgn/cellresporg,cellresporgn/cellrespnitro,
		cellresporgn/resporgn,negregphosmet/regphosmet,negregphosmet/negregcellmet,phosphorylation/phoscmet,
		negregribobio/regribobio,resppephorm/resppep,resppephorm/resphorm,cellresppep/resppep,
		cellresppep/cellresporgn,protphos/phosphorylation,protphos/protmod,respinsulin/resppephorm,
		cellresppephorm/resppephorm,cellresppephorm/cellresphorm,cellresppephorm/cellresppep,
		regprotphos/regphos,cellrespins/respinsulin,cellrespins/cellresppephorm,negregprotphos/regprotphos,
		negregprotphos/negregphos,regcdk/regpk,regcdkst/regcdk,regcdkst/regstk,negregcdk/regcdk,
		negregcdk/negregpk,negregcdkst/regcdkst,negregcdkst/negregcdk,negregcdkst/negregstk,regstk/regpk}
		\draw[isa] (\a) -- (\b);
	\foreach \a/\b in {cellproc/bp,localization/bp,regbp/bioreg,posregbp/regbp,negregbp/regbp,ccob/cellproc,
		cellloc/localization,estloc/localization,orgloc/cellloc,regcellproc/regbp,ccbiog/ccob,cellcycle/cellproc,
		cellpop/cellproc,estlocincell/estloc,estorgloc/estloc,estorgloc/orgloc,chrloc/orgloc,
		posregcellproc/regcellproc,posregcellproc/posregbp,negregcellproc/regcellproc,negregcellproc/negregbp,
		regccbiog/regcellproc,regcellcycle/regcellproc,regcellpop/regcellproc,mitcc/cellcycle,ccproc/cellproc,
		estchrloc/estorgloc,estchrloc/chrloc,phoscmet/phosmet,posregcc/regcellcycle,posregcc/posregcellproc,
		negregcc/regcellcycle,negregcc/negregcellproc,negregcellpop/regcellpop,negregcellpop/negregcellproc,
		chrseg/cellproc,regccproc/regcellcycle,orgfission/orgorg,regphosphmet/regphosmet,
		posregccproc/regccproc,posregccproc/posregcc,negregmf/regmf,negregmf/negregbp,regcatact/regmf,
		regchrseg/regccproc,mitccproc/ccproc,nucchrseg/chrseg,negregccproc/regccproc,negregccproc/negregcc,
		nucdiv/orgfission,regphos/regphosphmet,negregphosphmet/regphosphmet,negregphosphmet/negregphosmet,
		negregcatact/regcatact,negregcatact/negregmf,regtransf/regcatact,posregchrseg/regchrseg,
		mitnucdiv/nucdiv,mitnucdiv/mitccproc,sischrseg/nucchrseg,negregphos/regphos,
		negregphos/negregphosphmet,regkinact/regtransf,regkinact/regphos,negregtransf/regtransf,
		negregtransf/negregcatact,regadp/regtransf,mitsischr/sischrseg,regmetaphase/regchrseg,regpk/regkinact,
		negregkin/regkinact,negregkin/negregtransf,posregattach/regattach,mitmeta/metaphase,
		regmitsis/regsischr,negregpk/regpk,negregpk/negregkin,attachmit/attach,negregstk/negregpk,
		negregstk/regstk,regattachmit/regattach,posregattachmit/regattachmit,posregattachmit/posregattach}
		\draw[isa] (\a) -- (\b);
	\foreach \a/\b in {bioreg/bp,devproc/bp,rhythmic/bp,metab/bp,regloc/regbp,cco/ccob,orgorg/cco,
		ccassembly/cco,regcco/regcellproc,chromorg/cco,negregcco/regcco,regorgorg/regcco,cytoorg/orgorg,
		orgassembly/ccassembly,orgassembly/orgorg,regmf/bioreg,chromremod/chromorg,mtbased/cellproc,
		chrorg/orgorg,negregorgorg/regorgorg,negregorgorg/negregcco,regcytoorg/regorgorg,regorgassem/regorgorg,
		mtcytoorg/cytoorg,mtcytoorg/mtbased,regchrorg/regorgorg,negregcytoorg/regcytoorg,
		negregcytoorg/negregorgorg,negregorgassem/regorgassem,negregorgassem/negregorgorg,
		nmboassem/orgassembly,mtocorg/mtbased,centcycle/mtocorg,centassem/mtocorg,centassem/nmboassem,
		regcentcycle/regorgorg,negregcentcycle/regcentcycle,regcentdup/regcentcycle,centrep/centassem,
		negregcentdup/regcentdup,negregcentdup/negregcentcycle,regcentrep/regcentdup,negregcentrep/regcentrep,
		negregcentrep/negregcentdup,celldevproc/devproc,posregcco/regcco,
		asdev/devproc,regbq/bioreg,mop/bp,celldiff/celldevproc,mod/mop,mod/asdev,regass/regbq,sysproc/mop,
		cpo/cco,celldev/asdev,celldev/celldevproc,sysdev/asdev,regtube/regass,circsys/sysproc,regcpo/regcco,
		pmbcpo/cpo,nsdev/sysdev,regtubediam/regtube,bloodcirc/circsys,vascproc/circsys,posregcpo/regcpo,
		posregcpo/posregcco,regpmbcpo/regcpo,regbinding/regmf,posregmf/regmf,bvdm/regtubediam,bvdm/vascproc,
		regchrombind/regbinding,posregbinding/regbinding,posregbinding/posregmf,genneurons/neurogenesis,
		vasodilation/bvdm,posregchrombind/regchrombind,posregchrombind/posregbinding,neurondiff/celldiff,
		neurondev/celldev,npd/pmbcpo,regnpd/regpmbcpo,posregnpd/regnpd,posregnpd/posregcpo}
		\draw[isa] (\a) -- (\b);
	% part_of
	\foreach \a/\b in {orglumen/organelle,io/ias,iol/io,chromatin/chromosome,nuclumen/nucleus,chrreg/chromosome,
		hatcx/chromatin,nucleoplasm/nuclumen,spindle/mtcyto,mtoc/mtcyto,actomyosin/actin,condcent/condchr,
		kinetochore/condcent,cytoplasm/ias,cytosol/cytoplasm,contr/cytoplasm,sarcomere/myofibril,
		iband/sarcomere,aband/sarcomere,
		protmat/genexp,natx/genexp,rnaproc/genexp,rrnaproc/ribobio,ccassembly/ccbiog,estlocincell/cellloc,
		ccproc/cellcycle,mitccproc/mitcc,attach/nucchrseg,metaphase/nucchrseg,mitsischr/mitnucdiv,
		mitmeta/mitsischr,attachmit/mitmeta,mtocorg/mtcytoorg,centdup/centcycle,centrep/centdup,
		celldev/celldiff,sysdev/mod,neurogenesis/nsdev,bvdm/bloodcirc,neurondiff/genneurons,
		neurondev/neurondiff,npd/neurondev}
		\draw[partof] (\a) -- (\b);
	% regulates
	\foreach \a/\b in {regcarbmet/carbmet,regcarbbio/carbbio,regglcmet/glcmet,reggluconeo/gluconeo,
		regsmmet/smmet,regcatab/catab,regcellcat/cellcat,reglipmet/lipmet,regcarbcat/carbcat,reglipbio/lipbio,
		regfamet/famet,regglycol/glycol,regfabio/fabio,regketmet/ketmet,regmet/metab,regprimet/primet,
		regcellmet/cellmet,regbio/biosyn,regcellbio/cellbio,regmacbio/macbio,regprotmet/protmet,
		regprotmod/protmod,regrnabio/rnabio,regprotacet/protacet,regnatx/natx,regpeplys/peplysacet,
		reghismod/hismodp,regtxpolii/txpolii,regdnatx/dnatx,reghisacet/hisacet,regh3k9/h3k9acet,
		regnmet/nmet,regncmet/ncmet,regmacmet/macmet,reggenexp/genexp,regrnamet/rnamet,
		regrnasplice/rnasplice,regrrnaproc/rrnaproc,regdnamet/dnamet,regdnarepair/dnarepair,
		regrespstress/respstress,regcellstress/cellstress,regrespstim/respstim,regphosmet/phosmet,
		regribobio/ribobio,regprotphos/protphos,regbp/bp,regcellproc/cellproc,regccbiog/ccbiog,
		regcellcycle/cellcycle,regcellpop/cellpop,regccproc/ccproc,regphosphmet/phoscmet,regchrseg/chrseg,
		regphos/phosphorylation,regattach/attach,regsischr/sischrseg,regmetaphase/metaphase,
		regmitsis/mitsischr,regattachmit/attachmit,regloc/localization,regcco/cco,regorgorg/orgorg,
		regcytoorg/cytoorg,regorgassem/orgassembly,regmtbased/mtbased,regchrorg/chrorg,
		regcentcycle/centcycle,regcentdup/centdup,regcentrep/centrep,regcpo/cpo,regpmbcpo/pmbcpo,regnpd/npd}
		\draw[regs] (\a) -- (\b);
	% positively regulates
	\foreach \a/\b in {posregcarbmet/carbmet,posregglcmet/glcmet,posreggluconeo/gluconeo,posregcatab/catab,
		posregcellcat/cellcat,posreglipmet/lipmet,posregsmmet/smmet,posreglipbio/lipbio,posregfamet/famet,
		posregglycol/glycol,posregfabio/fabio,posregmet/metab,posregcellmet/cellmet,posregbio/biosyn,
		posregcellbio/cellbio,posregmacbio/macbio,posregprotmet/protmet,posregprotmod/protmod,
		posregprotacet/protacet,posregpeplys/peplysacet,posregnatx/natx,posregdnatx/dnatx,
		posregtxpolii/txpolii,posreghisacet/hisacet,posregh3k9/h3k9acet,posregrnabio/rnabio,
		posregnmet/nmet,posregncmet/ncmet,posregmacmet/macmet,posregrnamet/rnamet,posregbp/bp,
		posregcellproc/cellproc,posregcc/cellcycle,posregccproc/ccproc,posregchrseg/chrseg,
		posregattach/attach,posregattachmit/attachmit,posregcco/cco,posregcpo/cpo,posregnpd/npd}
		\draw[posregs] (\a) -- (\b);
	% negatively regulates
	\foreach \a/\b in {negregmet/metab,negregcellmet/cellmet,negregnmet/nmet,negregncmet/ncmet,
		negregmacmet/macmet,neggenexp/genexp,negregrnamet/rnamet,negregprotmet/protmet,negregprotmod/protmod,
		negregrrnaproc/rrnaproc,negregribobio/ribobio,negregphosmet/phosmet,negregprotphos/protphos,
		negregbp/bp,negregcellproc/cellproc,negregcc/cellcycle,negregcellpop/cellpop,negregccproc/ccproc,
		negregphosphmet/phoscmet,negregphos/phosphorylation,negregcco/cco,negregorgorg/orgorg,
		negregcytoorg/cytoorg,negregorgassem/orgassembly,negregcentcycle/centcycle,negregcentdup/centdup,
		negregcentrep/centrep}
		\draw[negregs] (\a) -- (\b);
	\end{pgfonlayer}
\end{tikzpicture}
\end{document}
